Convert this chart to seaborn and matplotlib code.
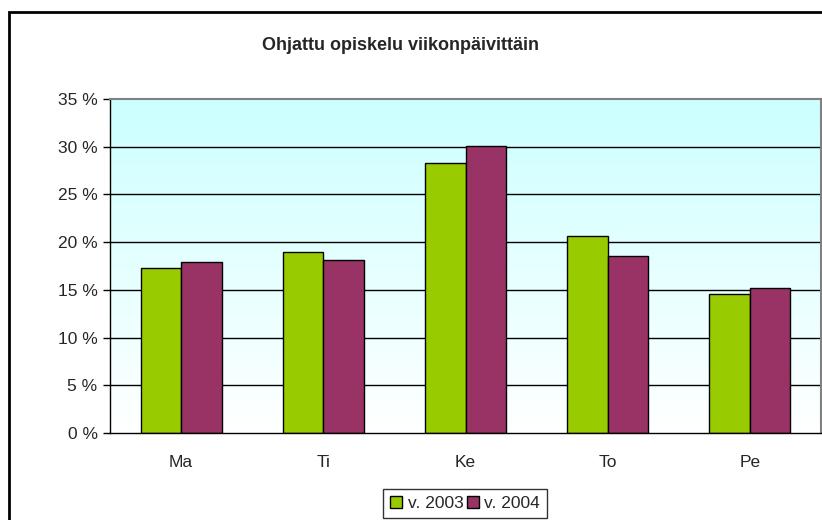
import numpy as np
import pandas as pd
import matplotlib
matplotlib.use('Agg')
import matplotlib.pyplot as plt
import seaborn as sns
from matplotlib.colors import LinearSegmentedColormap
from matplotlib.patches import Rectangle

days = ['Ma', 'Ti', 'Ke', 'To', 'Pe']
v2003 = [17.3, 19.0, 28.3, 20.6, 14.6]
v2004 = [17.9, 18.1, 30.1, 18.6, 15.2]
series = ['v. 2003', 'v. 2004']
colors = ['#99CC00', '#993366']
yticks = [0, 5, 10, 15, 20, 25, 30, 35]

df = pd.DataFrame({
    'day': days * 2,
    'value': v2003 + v2004,
    'year': [series[0]] * len(days) + [series[1]] * len(days),
})

sns.set_style('white')
plt.rcParams['font.family'] = ['Liberation Sans', 'DejaVu Sans']

W, H = 822, 520
fig = plt.figure(figsize=(W / 100, H / 100), dpi=100)
ax = fig.add_axes([110 / W, (H - 433) / H, (821 - 110) / W, (433 - 99) / H])

# gradient background: light cyan at top to white at bottom
cmap = LinearSegmentedColormap.from_list('bg', ['#FFFFFF', '#CCFFFF'])
grad = np.linspace(0, 1, 256).reshape(-1, 1)
ax.imshow(grad, cmap=cmap, origin='lower', aspect='auto',
          extent=[-0.5, 4.5, 0, 35], zorder=0)

for y in yticks[1:-1]:
    ax.axhline(y, color='black', lw=1, zorder=1)

sns.barplot(data=df, x='day', y='value', hue='year', palette=colors,
            saturation=1, width=0.57, edgecolor='black', linewidth=1,
            ax=ax, zorder=2, legend=True)

ax.set_xlim(-0.5, 4.5)
ax.set_ylim(0, 35)
ax.set_yticks(yticks)
ax.set_yticklabels([f'{t} %' for t in yticks], fontsize=12.5)
ax.set_xticks(range(len(days)))
ax.set_xticklabels(days, fontsize=12.5)
ax.set_xticks(np.arange(-0.5, 5, 1), minor=True)
ax.tick_params(axis='x', which='major', length=0, pad=16)
ax.tick_params(axis='x', which='minor', length=5, width=1, color='black', direction='out')
ax.tick_params(axis='y', length=5, width=1, color='black', direction='out', left=True, pad=4)
ax.set_xlabel('')
ax.set_ylabel('')

for side in ['left', 'bottom']:
    ax.spines[side].set_color('black')
    ax.spines[side].set_linewidth(1)
for side in ['top', 'right']:
    ax.spines[side].set_color('#808080')
    ax.spines[side].set_linewidth(1.5)

handles, labels = ax.get_legend_handles_labels()
ax.get_legend().remove()
fig.legend(handles, labels, loc='upper center', bbox_to_anchor=(465 / W, 1 - 489 / H),
           ncol=2, frameon=True, fancybox=False, edgecolor='black', fontsize=12.5,
           handlelength=0.7, handleheight=0.7, handletextpad=0.3, columnspacing=0.2,
           borderpad=0.4, borderaxespad=0)

fig.text(400 / W, 1 - 45 / H, 'Ohjattu opiskelu viikonpäivittäin',
         ha='center', va='center', fontsize=13, fontweight='bold')

# outer chart border (continues past the right and bottom edge)
fig.patches.append(Rectangle((9 / W, -0.05), 1.0, 1 - 12 / H + 0.05,
                             transform=fig.transFigure, fill=False,
                             edgecolor='black', lw=2, zorder=10))

fig.savefig('out.png', dpi=100)
